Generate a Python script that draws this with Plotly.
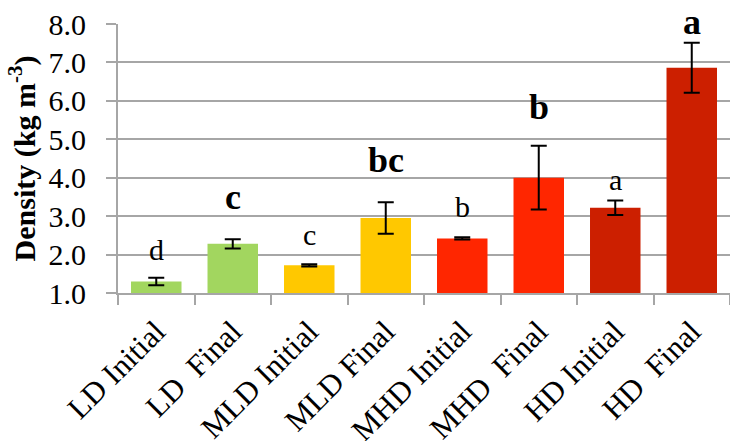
import plotly.graph_objects as go

categories = ["LD Initial", "LD\u00a0\u00a0Final", "MLD Initial", "MLD Final",
              "MHD Initial", "MHD\u00a0\u00a0Final", "HD Initial", "HD\u00a0\u00a0Final"]
density = [1.30, 2.28, 1.72, 2.95, 2.42, 4.00, 3.22, 6.86]
error = [0.10, 0.12, 0.03, 0.41, 0.03, 0.83, 0.19, 0.65]
colors = ["#A2D65F", "#A2D65F", "#FFC800", "#FFC800",
          "#FF2600", "#FF2600", "#CC1F00", "#CC1F00"]
letters = ["d", "c", "c", "bc", "b", "b", "a", "a"]
letter_bold = [False, True, False, True, False, True, False, True]
letter_y = [2.12, 3.51, 2.51, 4.46, 3.26, 5.83, 3.95, 8.06]

Y_MIN, Y_MAX = 1.0, 8.0
FONT = "Liberation Serif, Times New Roman, serif"
GRID = "#A6A6A6"

fig = go.Figure()
fig.add_trace(go.Bar(
    x=categories, y=density,
    marker=dict(color=colors, line=dict(width=0)),
    error_y=dict(type="data", array=error, visible=True,
                 color="black", thickness=2, width=8),
    showlegend=False,
))

for cat, lab, bold, yy in zip(categories, letters, letter_bold, letter_y):
    fig.add_annotation(
        x=cat, xref="x",
        y=(yy - Y_MIN) / (Y_MAX - Y_MIN), yref="paper",
        text=f"<b>{lab}</b>" if bold else lab,
        showarrow=False, yanchor="middle",
        font=dict(family=FONT, size=36 if bold else 30, color="black"),
    )

fig.update_layout(
    width=730, height=441,
    margin=dict(l=118, r=0, t=24, b=148),
    paper_bgcolor="white", plot_bgcolor="white",
    bargap=0.34,
    font=dict(family=FONT, color="black"),
)
fig.update_xaxes(
    type="category", tickangle=-45, tickson="boundaries", automargin=False,
    ticks="outside", ticklen=10, tickcolor=GRID, tickwidth=2,
    showline=True, linecolor=GRID, linewidth=2,
    tickfont=dict(family=FONT, size=31, color="black"),
    ticklabelstandoff=6,
    showgrid=False,
)
fig.update_yaxes(
    range=[Y_MIN, Y_MAX], dtick=1, tickformat=".1f", automargin=False,
    ticks="outside", ticklen=10, tickcolor=GRID, tickwidth=2,
    showline=True, linecolor=GRID, linewidth=2,
    showgrid=True, gridcolor=GRID, gridwidth=2,
    zeroline=False,
    tickfont=dict(family=FONT, size=30, color="black"),
    ticklabelstandoff=14,
    title=dict(text="<b>Density (kg m<sup>-3</sup>)</b>",
               font=dict(family=FONT, size=30, color="black"), standoff=4),
)

fig.write_html("out.html")
